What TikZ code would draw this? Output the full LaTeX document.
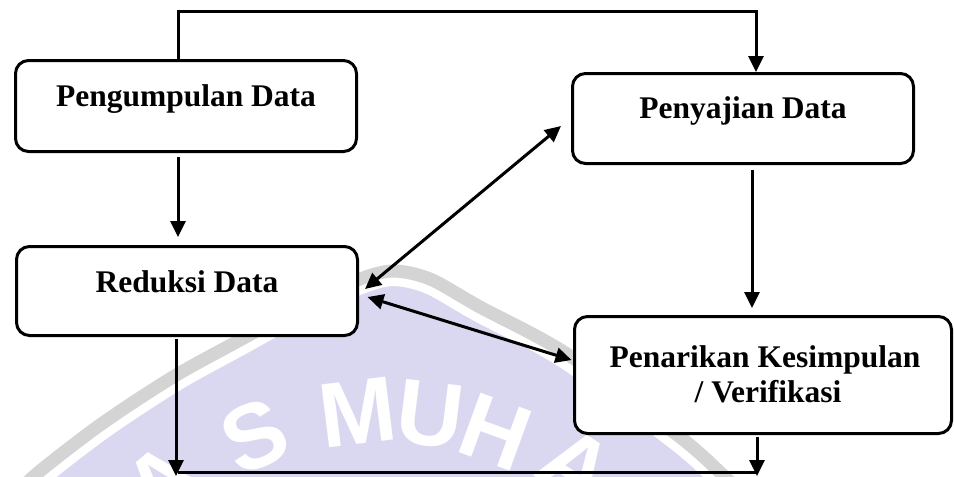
\documentclass[tikz,border=0pt]{standalone}
\usepackage{fontspec}
\setmainfont{Liberation Serif}
\newfontfamily\wmfont{Liberation Sans}
\usetikzlibrary{arrows.meta,calc}
\definecolor{wmlav}{RGB}{218,215,240}
\definecolor{wmgray}{RGB}{212,212,212}
\begin{document}
\begin{tikzpicture}[x=1pt,y=-1pt,line join=miter,
  box/.style={draw=black,line width=3pt,rounded corners=13pt,fill=white,inner sep=0pt},
  lbl/.style={font=\fontsize{31.5}{35}\selectfont\bfseries,anchor=base,inner sep=0pt},
  arr/.style={line width=3pt,-{Triangle[length=16pt,width=15pt]}},
  darr/.style={line width=3pt,{Triangle[length=16pt,width=15pt]}-{Triangle[length=16pt,width=15pt]}},
  wm/.style={font=\wmfont\bfseries\fontsize{92}{92}\selectfont,text=white,inner sep=0pt}]
\fill[white] (0,0) rectangle (954,477);
\useasboundingbox (0,0) rectangle (954,477);
% watermark
\begin{scope}
\clip (0,0) rectangle (954,477);
\def\wmcurve{(15,500) (33,477) (100,425) (173,377) (240,340) (300,307) (355,281) (392,271) (430,279) (480,307) (567,354) (680,437) (725,477) (740,492)}
\fill[wmlav] plot[smooth] coordinates {\wmcurve} -- cycle;
\draw[white,line width=30pt] plot[smooth] coordinates {\wmcurve};
\draw[wmgray,line width=13pt] plot[smooth] coordinates {\wmcurve};
\node[wm,rotate=40] (wa1) at (163,482) {A};
\node[wm,rotate=24] (ws) at (255,436) {S};
\node[wm,rotate=7] (wm1) at (358,412) {M};
\node[wm,rotate=-7] (wu) at (430,415) {U};
\node[wm,rotate=-20] (wh) at (496,432) {H};
\node[wm,rotate=-33] (wa2) at (577,466) {A};
\end{scope}
% boxes
\node[box,minimum width=341pt,minimum height=91pt] (pd) at (186,106) {};
\node[lbl] (pdt) at (186,106) {Pengumpulan Data};
\node[box,minimum width=341pt,minimum height=90pt] (pj) at (743,118.5) {};
\node[lbl] (pjt) at (743,118) {Penyajian Data};
\node[box,minimum width=341pt,minimum height=89pt] (rd) at (187,291) {};
\node[lbl] (rdt) at (187,292) {Reduksi Data};
\node[box,minimum width=377pt,minimum height=117pt] (pk) at (763,375) {};
\node[lbl] (pkt1) at (765,367) {Penarikan Kesimpulan};
\node[lbl] (pkt2) at (768,402) {/ Verifikasi};
% connectors
\coordinate (tl) at (178,11);
\coordinate (tr) at (756,11);
\draw[arr] (tl |- pd.north) -- (tl) -- (tr) -- (tr |- pj.north);
\draw[arr,shorten <=4pt,shorten >=8pt] (tl |- pd.south) -- (tl |- rd.north);
\coordinate (vx) at (752,0);
\draw[arr,shorten <=5pt,shorten >=7pt] (vx |- pj.south) -- (vx |- pk.north);
\draw[darr] ($(rd.east)+(6,-2)$) -- ($(pj.west)+(-10,7.5)$);
\draw[darr] ($(rd.east)+(8.5,6)$) -- ($(pk.west)+(-1.5,-15)$);
\coordinate (al) at (176,476);
\coordinate (ar) at (757,476);
\coordinate (hl) at (178,472);
\coordinate (hr) at (757,472);
\draw[arr,shorten <=2pt] (al |- rd.south) -- (al);
\draw[arr,shorten <=2pt] (ar |- pk.south) -- (ar);
\draw[line width=3pt] (hl) -- (hr);
\end{tikzpicture}
\end{document}
